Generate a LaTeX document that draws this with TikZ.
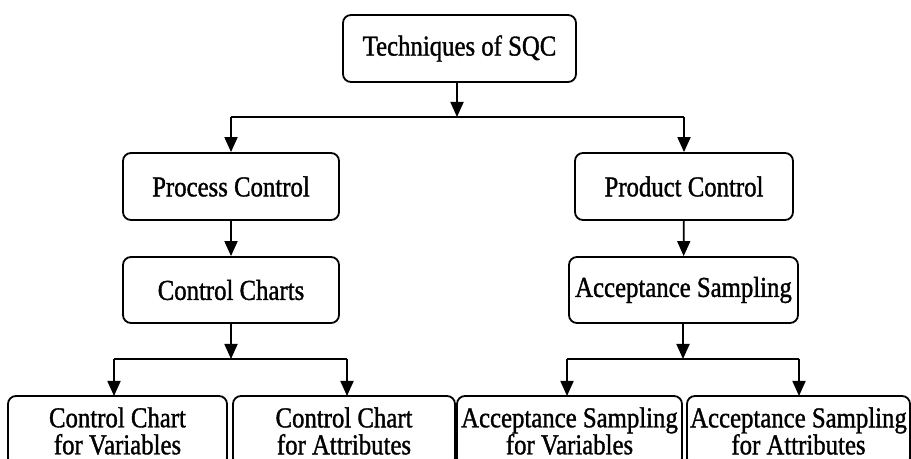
\documentclass[tikz,border=0pt]{standalone}
\usepackage{fontspec}
\setmainfont{Liberation Serif}[FakeStretch=0.86,FakeBold=1.2]
\usepackage{tikz}
\usetikzlibrary{arrows.meta,positioning}

\tikzset{
  box/.style={draw, rounded corners=4pt, line width=0.9pt, align=center, inner sep=0pt,
    font=\fontsize{14.4}{13.5}\selectfont},
  arr/.style={-{Triangle[width=6.5pt,length=7.5pt]}, line width=0.9pt},
  lin/.style={line width=0.9pt}
}

\begin{document}
\begin{tikzpicture}[x=0.5pt,y=-0.5pt]
\useasboundingbox (0,0) rectangle (911,459);
\node[box, minimum width=116.5pt, minimum height=33.5pt] (sqc) at (459.5,48.5) {Techniques of SQC};
\node[box, minimum width=108pt, minimum height=33.5pt] (proc) at (231,186.5) {Process Control};
\node[box, minimum width=109pt, minimum height=33.5pt] (prod) at (684,186.5) {Product Control};
\node[box, minimum width=108pt, minimum height=33pt] (chart) at (231,290) {Control Charts};
\node[box, minimum width=114.5pt, minimum height=33pt] (accs) at (683.5,290) {Acceptance Sampling};
\node[box, minimum width=109.5pt, minimum height=35pt] (ccv) at (117.5,431) {Control Chart\\for Variables};
\node[box, minimum width=111pt, minimum height=35pt] (cca) at (344,431) {Control Chart\\for Attributes};
\node[box, minimum width=112.5pt, minimum height=35pt] (asv) at (569.5,431) {Acceptance Sampling\\for Variables};
\node[box, minimum width=111.5pt, minimum height=35pt] (asa) at (798.5,431) {Acceptance Sampling\\for Attributes};

% first split
\coordinate (s1) at (457,117);
\draw[arr] (sqc.south -| s1) -- (s1);
\draw[lin] (proc.north |- s1) -- (prod.north |- s1);
\draw[arr] (proc.north |- s1) -- (proc.north);
\draw[arr] (prod.north |- s1) -- (prod.north);
\draw[arr] (proc) -- (chart);
\draw[arr] (prod) -- (accs);

% second level
\coordinate (s2) at (231,359);
\coordinate (s3) at (683,359);
\draw[arr] (chart.south) -- (s2);
\draw[arr] (accs.south -| s3) -- (s3);
\draw[lin] (114,359) -- (347,359);
\draw[lin] (567,359) -- (799,359);
\draw[arr] (114,359) -- (114,396);
\draw[arr] (347,359) -- (347,396);
\draw[arr] (567,359) -- (567,396);
\draw[arr] (799,359) -- (799,396);
\end{tikzpicture}
\end{document}
